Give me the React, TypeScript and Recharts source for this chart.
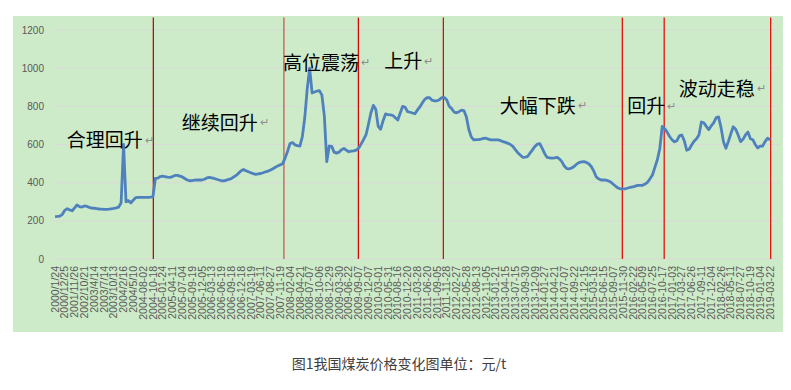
import React from 'react';
import { LineChart, Line, XAxis, YAxis, CartesianGrid, ReferenceLine, ReferenceDot } from 'recharts';

// one category label every STEP data points
const dateLabels = [
  '2000/1/24', '2000/12/25', '2001/11/26', '2002/10/21', '2003/4/14', '2003/7/14', '2003/10/13', '2004/2/16',
  '2004/5/10', '2004-08-02', '2004-10-18', '2005-01-24', '2005-04-11', '2005-07-04', '2005-09-19', '2005-12-05',
  '2006-03-13', '2006-06-19', '2006-09-18', '2006-12-18', '2007-03-19', '2007-06-11', '2007-08-27', '2007-11-19',
  '2008-02-04', '2008-04-21', '2008-07-07', '2008-10-06', '2008-12-29', '2009-03-30', '2009-06-22', '2009-09-07',
  '2009-12-07', '2010-03-01', '2010-05-31', '2010-08-16', '2010-12-20', '2011-03-28', '2011-06-20', '2011-09-05',
  '2011-11-28', '2012-02-27', '2012-05-28', '2012-08-13', '2012-11-05', '2013-01-21', '2013-04-15', '2013-07-15',
  '2013-09-30', '2013-12-09', '2014-01-27', '2014-04-21', '2014-07-07', '2014-09-22', '2014-12-15', '2015-03-16',
  '2015-06-15', '2015-09-07', '2015-11-30', '2016-02-22', '2016-05-09', '2016-07-25', '2016-10-17', '2017-01-03',
  '2017-03-27', '2017-06-26', '2017-09-11', '2017-12-04', '2018-02-26', '2018-05-11', '2018-07-27', '2018-10-19',
  '2019-01-04', '2019-03-22',
];
const STEP = 4;

// 元/t
const prices = [
  222, 223, 225, 234, 255, 264, 257, 253, 268, 283,
  274, 272, 278, 276, 270, 267, 266, 264, 262, 261,
  260, 260, 261, 263, 265, 268, 272, 295, 600, 300,
  306, 294, 309, 322, 323, 323, 323, 323, 323, 324,
  326, 423, 424, 432, 434, 431, 429, 428, 432, 438,
  438, 434, 430, 422, 414, 410, 411, 413, 414, 414,
  414, 418, 425, 428, 425, 422, 418, 414, 410, 409,
  413, 417, 421, 430, 438, 450, 462, 469, 463, 457,
  452, 447, 444, 446, 448, 452, 457, 460, 466, 473,
  481, 488, 493, 500, 530, 565, 605, 610, 598, 594,
  592, 640, 740, 890, 1000, 870, 875, 880, 882, 859,
  750, 510, 592, 590, 560, 555, 560, 572, 579, 570,
  562, 565, 567, 570, 580, 602, 625, 650, 705, 765,
  805, 785, 695, 680, 725, 760, 757, 755, 752, 740,
  728, 765, 800, 795, 772, 769, 765, 761, 780, 797,
  818, 836, 846, 845, 832, 829, 829, 835, 846, 846,
  833, 800, 788, 770, 766, 772, 780, 778, 745, 680,
  640, 624, 625, 626, 628, 632, 633, 628, 624, 624,
  624, 624, 620, 615, 611, 606, 600, 590, 573, 557,
  545, 533, 534, 537, 555, 572, 590, 602, 604, 580,
  552, 532, 530, 528, 530, 533, 525, 510, 487, 474,
  472, 477, 485, 497, 505, 509, 510, 506, 499, 485,
  462, 431, 420, 414, 414, 413, 409, 403, 392, 381,
  372, 367, 367, 368, 372, 376, 378, 382, 386, 386,
  386, 393, 402, 420, 440, 480, 520, 578, 695, 683,
  665, 642, 625, 614, 620, 645, 650, 620, 570, 575,
  597, 617, 630, 650, 718, 714, 695, 678, 697, 713,
  740, 745, 690, 615, 580, 615, 655, 693, 680, 650,
  615, 627, 650, 665, 630, 625, 600, 582, 592, 592,
  615, 633, 625,
];

const yTicks = [0, 200, 400, 600, 800, 1000, 1200];

// phase boundaries (data index) and their colours
const phaseBreaks = [40.15, 93.5, 123.9, 158.6, 231.7, 248.8, 292.3];
const breakColors = ['#b00000', '#c0504d', '#d40000', '#d40000', '#e60000', '#e60000', '#e60000'];

const phaseNotes = [
  { text: '合理回升', i: 4.8, v: 629 },
  { text: '继续回升', i: 51.8, v: 723 },
  { text: '高位震荡', i: 93.1, v: 1037 },
  { text: '上升', i: 134.5, v: 1043 },
  { text: '大幅下跌', i: 181.6, v: 812 },
  { text: '回升', i: 233.7, v: 807 },
  { text: '波动走稳', i: 254.7, v: 901 },
];

const data = prices.map((v, i) => ({ i, v }));
const xTicks = dateLabels.map((_, k) => k * STEP);

const axisFont = '"Liberation Sans", Arial, sans-serif';

const DateTick = (props: any) => {
  const { x, y, payload } = props;
  const label = dateLabels[Math.round(payload.value / STEP)];
  return (
    <text x={x} y={y} dy="0.35em" textAnchor="end" transform={`rotate(-90, ${x}, ${y})`}
      fontSize={10.5} fill="#595959" fontFamily={axisFont}>
      {label}
    </text>
  );
};

const noteShape = (text: string) => (p: any) => (
  <text x={p.cx} y={p.cy} dominantBaseline="central" fontSize={19} fill="#000"
    fontFamily='"Noto Sans CJK SC", sans-serif'>
    {text}
    <tspan fontSize={11} fill="#8c8c8c" dx={2}>↵</tspan>
  </text>
);

const App: React.FC = () => {
  return (
    <div style={{ position: 'relative', width: 791, height: 390, margin: -8, background: '#fff', overflow: 'hidden' }}>
      <div style={{ position: 'absolute', left: 13, top: 16, width: 770, height: 316, background: '#cdebc8' }}>
        <LineChart width={770} height={316} data={data} margin={{ top: 14, right: 3, bottom: 13, left: 0 }}>
          <CartesianGrid vertical={false} stroke="#d9d9d9" strokeWidth={1} />
          <XAxis type="number" dataKey="i" domain={[-0.82, 296.1]} ticks={xTicks} interval={0}
            axisLine={false} tickLine={false} tickSize={0} tickMargin={7} height={60} tick={<DateTick />} />
          <YAxis domain={[0, 1200]} ticks={yTicks} axisLine={false} tickLine={false} tickSize={0} tickMargin={9}
            width={40} tick={{ fontSize: 10, fill: '#595959', fontFamily: axisFont }} />
          {phaseBreaks.map((b, k) => (
            <ReferenceLine key={`brk-${k}`} segment={[{ x: b, y: 0 }, { x: b, y: 1265 }]}
              stroke={breakColors[k]} strokeWidth={1.2} ifOverflow="visible" />
          ))}
          <Line type="linear" dataKey="v" stroke="#4f81bd" strokeWidth={2.8} dot={false}
            strokeLinejoin="round" isAnimationActive={false} />
          {phaseNotes.map((n, k) => (
            <ReferenceDot key={`note-${k}`} x={n.i} y={n.v} r={0} ifOverflow="visible" shape={noteShape(n.text)} />
          ))}
        </LineChart>
      </div>
      <div style={{ position: 'absolute', left: 0, top: 353, width: 798, textAlign: 'center', lineHeight: '20px',
        fontSize: 14, color: '#404040', fontFamily: '"Noto Sans CJK SC", sans-serif' }}>
        图1我国煤炭价格变化图单位：元/t
      </div>
    </div>
  );
};

export default App;
